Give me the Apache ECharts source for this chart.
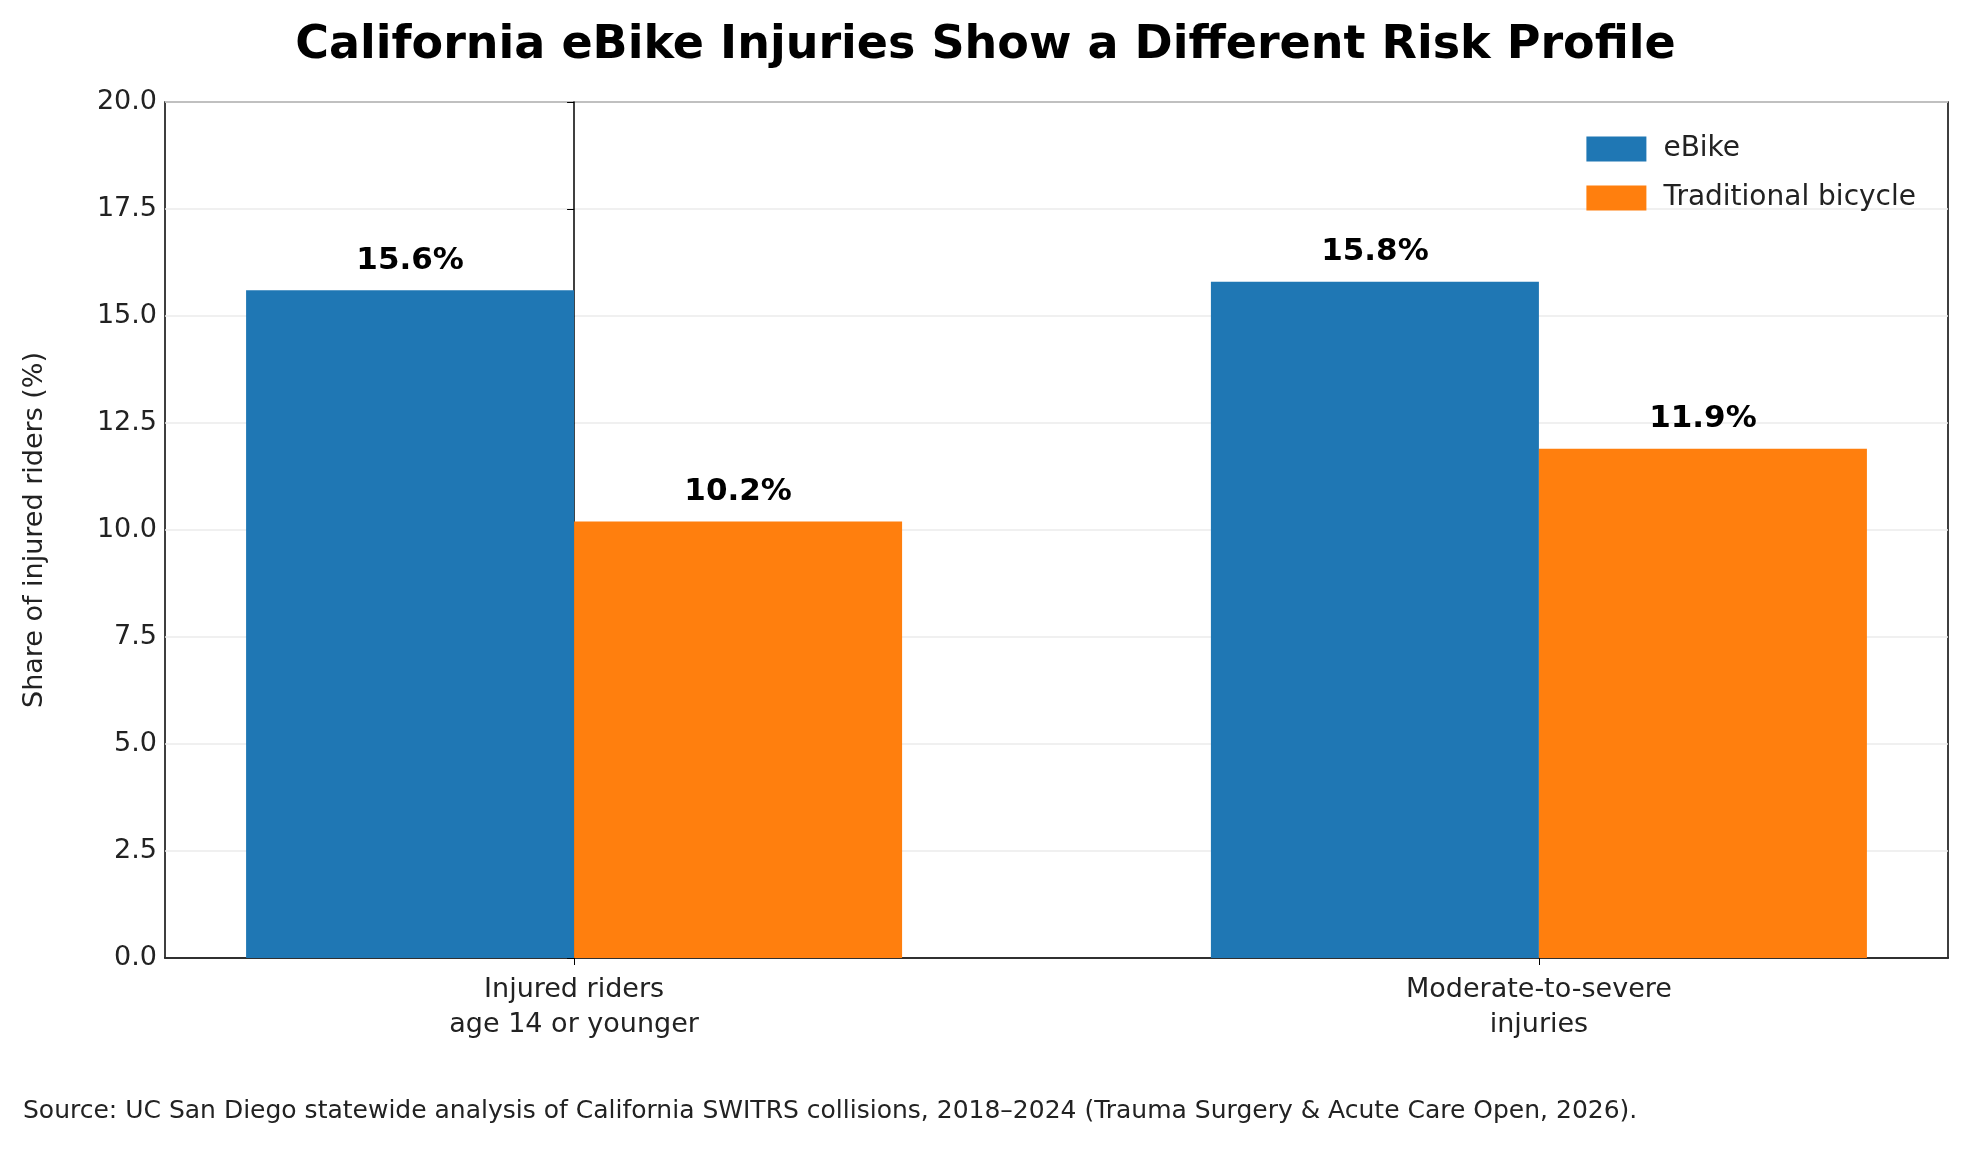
<!DOCTYPE html>
<html><head><meta charset="utf-8">
<script src="https://cdn.jsdelivr.net/npm/echarts@6/dist/echarts.min.js"></script>
<style>html,body{margin:0;padding:0;background:#fff}#chart{width:1971px;height:1149px}</style>
</head><body><div id="chart"></div>
<script>
const categories = ['Injured riders\nage 14 or younger', 'Moderate-to-severe\ninjuries'];
const ebike = [15.6, 15.8];
const traditional = [10.2, 11.9];
const seriesNames = ['eBike', 'Traditional bicycle'];

var chart = echarts.init(document.getElementById('chart'));
const font = 'DejaVu Sans';
let labelOpt = {
    show: true, position: 'top', distance: 14,
    formatter: (p) => p.value[1].toFixed(1) + '%',
    fontFamily: font, fontWeight: 'bold', fontSize: 31, color: '#000'
};
chart.setOption({
    animation: false,
    title: {
        text: 'California eBike Injuries Show a Different Risk Profile',
        left: 'center', top: 18,
        textStyle: {fontFamily: font, fontWeight: 'bold', fontSize: 46, color: '#000'}
    },
    grid: {left: 165, right: 23, top: 102, bottom: 191, show: true, borderColor: '#000', borderWidth: 1.5},
    legend: {
        orient: 'vertical', right: 50, top: 130, itemWidth: 60, itemHeight: 25, itemGap: 21,
        icon: 'rect',
        textStyle: {fontFamily: font, fontSize: 28, color: '#222', padding: [0, 0, 0, 12]},
        data: seriesNames
    },
    xAxis: {
        type: 'value', min: -0.424, max: 1.424,
        splitLine: {show: false},
        axisLine: {lineStyle: {color: '#000', width: 1.5}},
        axisTick: {show: true, length: 7, lineStyle: {color: '#000'}, customValues: [0, 1]},
        axisLabel: {fontFamily: font, fontSize: 27, color: '#222', margin: 14, lineHeight: 35,
                    customValues: [0, 1], formatter: (v) => categories[Math.round(v)]}
    },
    yAxis: {
        type: 'value', min: 0, max: 20, interval: 2.5,
        name: 'Share of injured riders (%)', nameLocation: 'middle', nameGap: 117,
        nameTextStyle: {fontFamily: font, fontSize: 27, color: '#222'},
        axisLine: {show: true, lineStyle: {color: '#000', width: 1.5}},
        axisTick: {show: true, length: 7, lineStyle: {color: '#000'}},
        axisLabel: {fontFamily: font, fontSize: 27, color: '#222', formatter: (v) => v.toFixed(1)},
        splitLine: {lineStyle: {color: '#ebebeb', width: 1.5}}
    },
    series: [
        {name: seriesNames[0], type: 'bar', data: ebike.map((v, i) => [i, v]), barWidth: 328, barGap: '0%',
         itemStyle: {color: '#1f77b4'}, label: labelOpt},
        {name: seriesNames[1], type: 'bar', data: traditional.map((v, i) => [i, v]), barWidth: 328,
         itemStyle: {color: '#ff7f0e'}, label: labelOpt}
    ],
    graphic: [{
        type: 'text', left: 23, top: 1099,
        style: {text: 'Source: UC San Diego statewide analysis of California SWITRS collisions, 2018–2024 (Trauma Surgery & Acute Care Open, 2026).',
                fontFamily: font, fontSize: 25, fill: '#222'}
    }]
});
</script></body></html>
